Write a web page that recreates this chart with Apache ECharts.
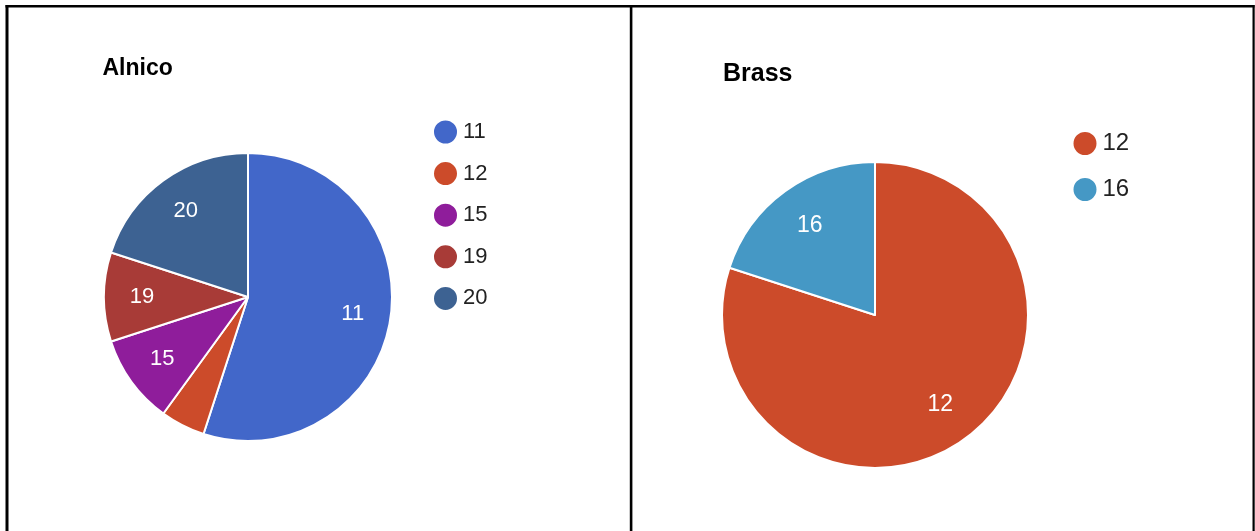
<!DOCTYPE html>
<html>
<head>
<meta charset="utf-8">
<script src="https://cdn.jsdelivr.net/npm/echarts@6/dist/echarts.min.js"></script>
<style>
html,body{margin:0;padding:0;background:#fff;}
#c{width:1255px;height:531px;}
</style>
</head>
<body>
<div id="c"></div>
<script>
// Data
const alnicoNames = ['11', '12', '15', '19', '20'];
const alnicoValues = [55, 5, 10, 10, 20];
const alnicoColors = ['#4267c9', '#cc4b2a', '#8f1d9b', '#a83b37', '#3d6292'];
const alnicoShowLabel = [true, false, true, true, true];

const brassNames = ['12', '16'];
const brassValues = [80, 20];
const brassColors = ['#cc4b2a', '#4598c5'];
const brassShowLabel = [true, true];

const FONT = 'Liberation Sans, Arial, sans-serif';

function visibleData(names, values, colors) {
  return names.map((n, i) => ({ name: n, value: values[i], itemStyle: { color: colors[i] } }));
}
function ghostData(names, values, show) {
  return names.map((n, i) => ({ name: n, value: values[i], label: { show: show[i] } }));
}
function legendData(names, colors) {
  return names.map((n, i) => ({ name: n, itemStyle: { color: colors[i] } }));
}

const chart = echarts.init(document.getElementById('c'), null, { renderer: 'canvas' });

chart.setOption({
  animation: false,
  backgroundColor: '#fff',
  title: [
    { text: 'Alnico', left: 102.5, top: 57, padding: 0,
      textStyle: { fontFamily: FONT, fontSize: 23, fontWeight: 'bold', color: '#000', lineHeight: 23 } },
    { text: 'Brass', left: 723, top: 62, padding: 0,
      textStyle: { fontFamily: FONT, fontSize: 25, fontWeight: 'bold', color: '#000', lineHeight: 25 } }
  ],
  legend: [
    { orient: 'vertical', left: 432, top: 118.5, padding: 0, icon: 'circle',
      itemWidth: 25, itemHeight: 25, itemGap: 14.6, itemTextGap: 13, selectedMode: false,
      data: legendData(alnicoNames, alnicoColors),
      textStyle: { fontFamily: FONT, fontSize: 22, color: '#222', lineHeight: 25 } },
    { orient: 'vertical', left: 1071.5, top: 130, padding: 0, icon: 'circle',
      itemWidth: 25, itemHeight: 25, itemGap: 19, itemTextGap: 13, selectedMode: false,
      data: legendData(brassNames, brassColors),
      textStyle: { fontFamily: FONT, fontSize: 24, color: '#222', lineHeight: 25 } }
  ],
  graphic: [
    { type: 'rect', shape: { x: 5.5, y: 5, width: 3, height: 530 }, style: { fill: '#000' }, silent: true },
    { type: 'rect', shape: { x: 5.5, y: 5, width: 1249, height: 2.5 }, style: { fill: '#000' }, silent: true },
    { type: 'rect', shape: { x: 629.8, y: 5, width: 2.6, height: 530 }, style: { fill: '#000' }, silent: true },
    { type: 'rect', shape: { x: 1252.5, y: 5, width: 2.2, height: 530 }, style: { fill: '#000' }, silent: true }
  ],
  series: [
    { type: 'pie', name: 'Alnico', center: [248, 297], radius: [0, 144], startAngle: 90, clockwise: true,
      silent: true, label: { show: false }, labelLine: { show: false }, emphasis: { disabled: true },
      itemStyle: { borderColor: '#fff', borderWidth: 2 },
      data: visibleData(alnicoNames, alnicoValues, alnicoColors) },
    { type: 'pie', name: 'AlnicoLabels', center: [248, 297], radius: [0, 206], startAngle: 90, clockwise: true,
      silent: true, labelLine: { show: false }, emphasis: { disabled: true },
      itemStyle: { color: 'rgba(0,0,0,0)', borderWidth: 0 },
      label: { show: true, position: 'inside', color: '#fff', fontSize: 22,
        fontFamily: FONT, formatter: '{b}' },
      data: ghostData(alnicoNames, alnicoValues, alnicoShowLabel) },
    { type: 'pie', name: 'Brass', center: [875, 315], radius: [0, 153], startAngle: 90, clockwise: true,
      silent: true, label: { show: false }, labelLine: { show: false }, emphasis: { disabled: true },
      itemStyle: { borderColor: '#fff', borderWidth: 2 },
      data: visibleData(brassNames, brassValues, brassColors) },
    { type: 'pie', name: 'BrassLabels', center: [875, 315], radius: [0, 216], startAngle: 90, clockwise: true,
      silent: true, labelLine: { show: false }, emphasis: { disabled: true },
      itemStyle: { color: 'rgba(0,0,0,0)', borderWidth: 0 },
      label: { show: true, position: 'inside', color: '#fff', fontSize: 23,
        fontFamily: FONT, formatter: '{b}' },
      data: ghostData(brassNames, brassValues, brassShowLabel) }
  ]
});
</script>
</body>
</html>
